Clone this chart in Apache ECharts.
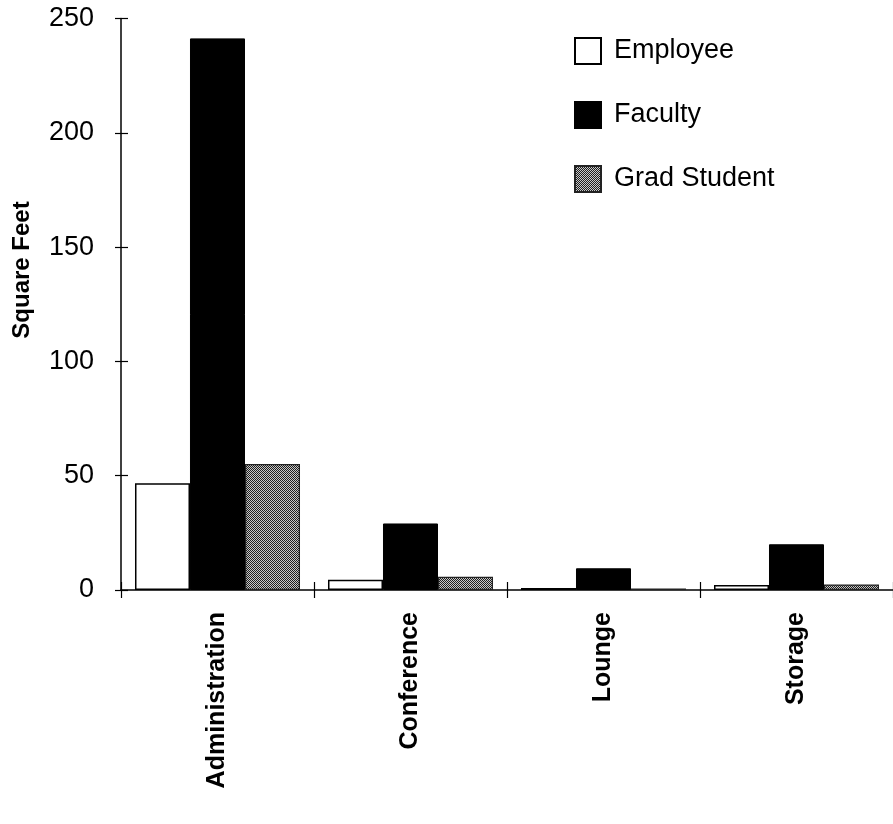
<!DOCTYPE html>
<html>
<head>
<meta charset="utf-8">
<script src="https://cdn.jsdelivr.net/npm/echarts@6/dist/echarts.min.js"></script>
<style>
  html, body { margin: 0; padding: 0; background: #fff; }
  #chart { width: 893px; height: 824px; }
</style>
</head>
<body>
<div id="chart"></div>
<script>
const categories = ['Administration', 'Conference', 'Lounge', 'Storage'];
const employee = [46.7, 4.5, 0.9, 2.2];
const faculty = [241.3, 29.1, 9.5, 20.0];
const gradStudent = [55.1, 5.8, 0.7, 2.4];
const yTicks = { min: 0, max: 250, interval: 50 };
const yName = 'Square Feet';

const FONT = '"Liberation Sans", Arial, Helvetica, sans-serif';

// halftone pattern for Grad Student
const pc = document.createElement('canvas');
pc.width = 2; pc.height = 2;
const pctx = pc.getContext('2d');
pctx.fillStyle = '#c8c8c8'; pctx.fillRect(0, 0, 2, 2);
pctx.fillStyle = '#1e1e1e';
pctx.fillRect(0, 0, 1, 1);
pctx.fillRect(1, 1, 1, 1);
const gradPattern = { image: pc, repeat: 'repeat' };

const chart = echarts.init(document.getElementById('chart'), null, { renderer: 'canvas' });

chart.setOption({
  animation: false,
  backgroundColor: '#fff',
  textStyle: { fontFamily: FONT, color: '#000' },
  grid: { left: 121, right: -4, top: 18.5, bottom: 234, containLabel: false },
  legend: {
    orient: 'vertical',
    left: 569,
    top: 32,
    itemWidth: 26,
    itemHeight: 26,
    itemGap: 36,
    icon: 'rect',
    textStyle: { fontFamily: FONT, fontSize: 27, color: '#000', lineHeight: 26, padding: [0, 0, 0, 8] },
    data: ['Employee', 'Faculty', 'Grad Student']
  },
  xAxis: [
    {
      type: 'category',
      data: categories,
      position: 'bottom',
      axisLine: { show: true, lineStyle: { color: '#000', width: 1.5 } },
      axisTick: { show: true, length: 8, lineStyle: { color: '#000', width: 1.2 } },
      axisLabel: { rotate: 90, margin: 22, fontFamily: FONT, fontSize: 25, fontWeight: 'bold', color: '#000' }
    },
    {
      type: 'category',
      data: categories,
      position: 'bottom',
      axisLine: { show: false },
      axisTick: { show: true, inside: true, length: 8, lineStyle: { color: '#000', width: 1.2 } },
      axisLabel: { show: false }
    }
  ],
  yAxis: [
    {
      type: 'value',
      min: yTicks.min, max: yTicks.max, interval: yTicks.interval,
      position: 'left',
      axisLine: { show: true, lineStyle: { color: '#000', width: 1.5 } },
      axisTick: { show: true, length: 6, lineStyle: { color: '#000', width: 1.2 } },
      axisLabel: { margin: 27, fontFamily: FONT, fontSize: 27, color: '#000' },
      splitLine: { show: false }
    },
    {
      type: 'value',
      min: yTicks.min, max: yTicks.max, interval: yTicks.interval,
      position: 'left',
      axisLine: { show: false },
      axisTick: { show: true, inside: true, length: 7, lineStyle: { color: '#000', width: 1.2 } },
      axisLabel: { show: false },
      splitLine: { show: false }
    }
  ],
  graphic: [
    {
      type: 'text',
      x: 22,
      y: 270,
      rotation: Math.PI / 2,
      style: {
        text: yName,
        font: 'bold 24px ' + FONT,
        fill: '#000',
        textAlign: 'center',
        textVerticalAlign: 'middle'
      }
    }
  ],
  series: [
    {
      name: 'Employee', type: 'bar', data: employee,
      barGap: '0%', barCategoryGap: '14.5%',
      itemStyle: { color: '#fff', borderColor: '#000', borderWidth: 1.5 }
    },
    {
      name: 'Faculty', type: 'bar', data: faculty,
      barGap: '0%', barCategoryGap: '14.5%',
      itemStyle: { color: '#000', borderColor: '#000', borderWidth: 1 }
    },
    {
      name: 'Grad Student', type: 'bar', data: gradStudent,
      barGap: '0%', barCategoryGap: '14.5%',
      itemStyle: { color: gradPattern, borderColor: '#222', borderWidth: 1.2 }
    }
  ]
});
</script>
</body>
</html>
